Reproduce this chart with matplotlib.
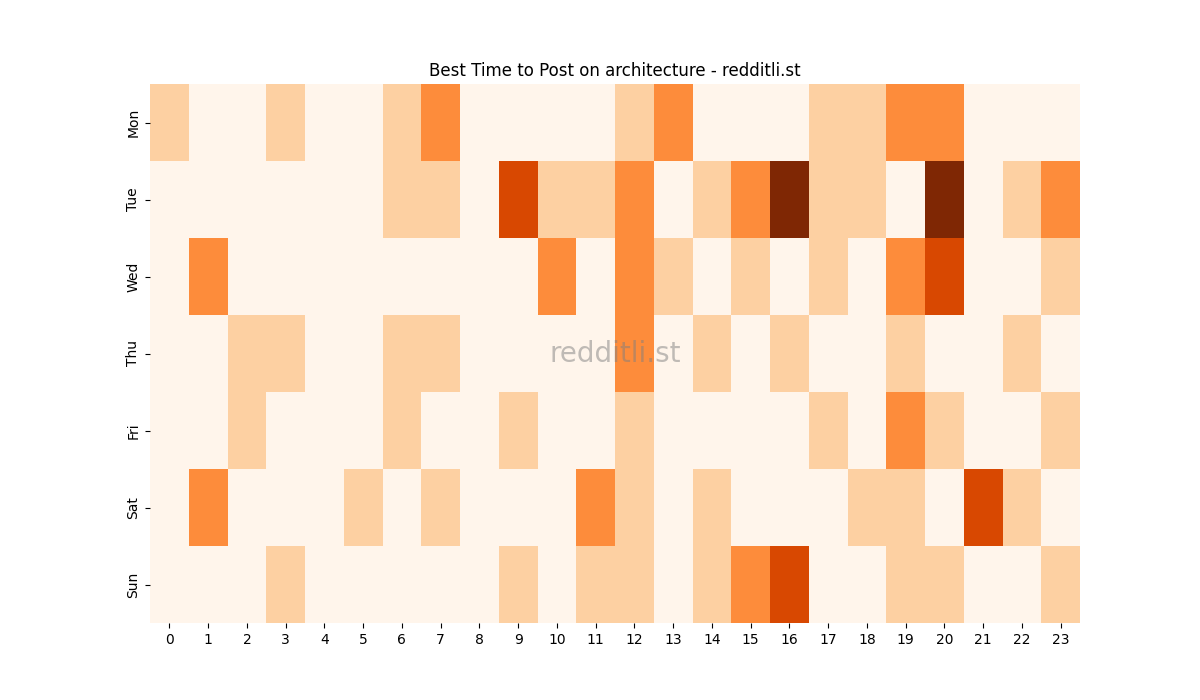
import matplotlib
matplotlib.use("Agg")
import matplotlib.pyplot as plt
import seaborn as sns
import numpy as np

days = ["Mon", "Tue", "Wed", "Thu", "Fri", "Sat", "Sun"]
hours = list(range(24))

mon = [1,0,0,1,0,0,1,2,0,0,0,0,1,2,0,0,0,1,1,2,2,0,0,0]
tue = [0,0,0,0,0,0,1,1,0,3,1,1,2,0,1,2,4,1,1,0,4,0,1,2]
wed = [0,2,0,0,0,0,0,0,0,0,2,0,2,1,0,1,0,1,0,2,3,0,0,1]
thu = [0,0,1,1,0,0,1,1,0,0,0,0,2,0,1,0,1,0,0,1,0,0,1,0]
fri = [0,0,1,0,0,0,1,0,0,1,0,0,1,0,0,0,0,1,0,2,1,0,0,1]
sat = [0,2,0,0,0,1,0,1,0,0,0,2,1,0,1,0,0,0,1,1,0,3,1,0]
sun = [0,0,0,1,0,0,0,0,0,1,0,1,1,0,1,2,3,0,0,1,1,0,0,1]

data = np.array([mon, tue, wed, thu, fri, sat, sun])

fig, ax = plt.subplots(figsize=(12, 7), dpi=100)
sns.heatmap(data, cmap="Oranges", vmin=0, vmax=4, cbar=False, ax=ax,
            xticklabels=hours, yticklabels=days)
ax.set_title("Best Time to Post on architecture - redditli.st", fontsize=12)
ax.tick_params(axis="x", rotation=0)
ax.tick_params(axis="y", rotation=90)
ax.text(0.5, 0.5, "redditli.st", transform=ax.transAxes, fontsize=20,
        color="gray", alpha=0.5, ha="center", va="center")
fig.savefig("out.png", dpi=100)
